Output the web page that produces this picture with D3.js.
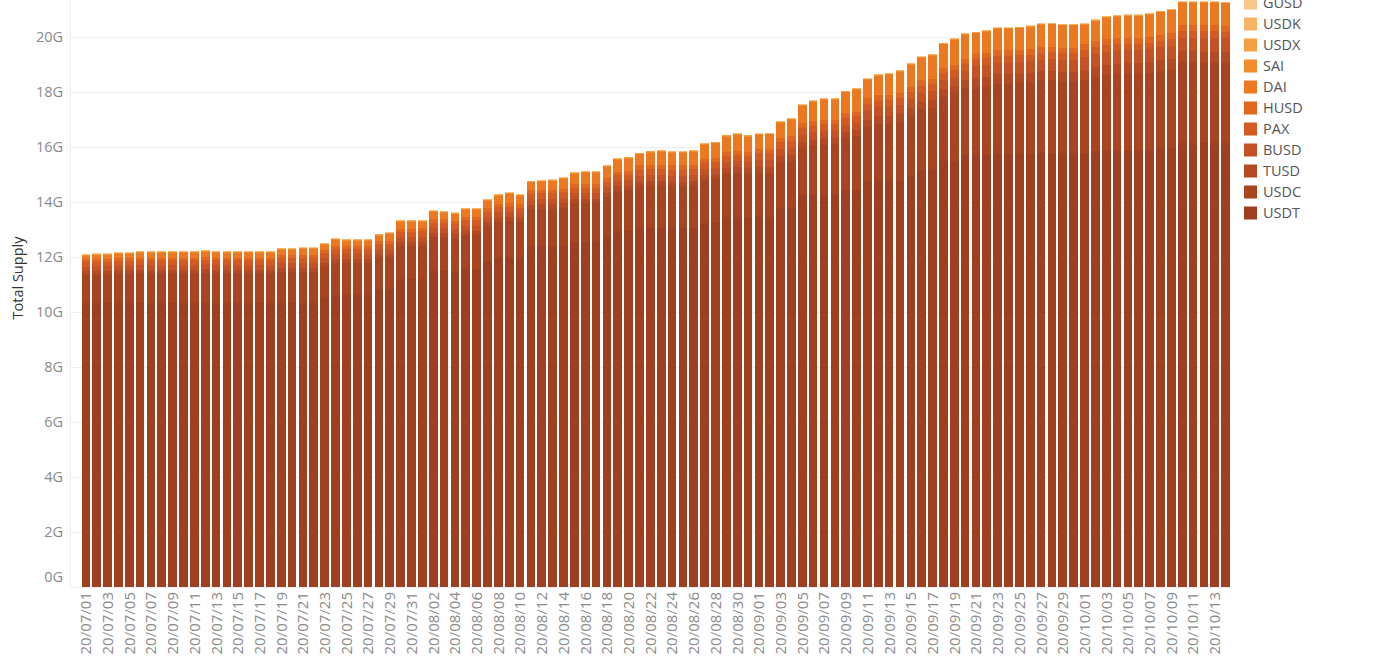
<!DOCTYPE html>
<html>
<head>
<meta charset="utf-8">
<script src="https://cdn.jsdelivr.net/npm/d3@7"></script>
<style>
  html, body { margin: 0; padding: 0; background: #fff; }
  svg { display: block; font-family: "Open Sans", "Noto Sans", sans-serif; }
</style>
</head>
<body>
<svg id="chart" width="1381" height="657"></svg>
<script>
// ---- DATA (values in billions) ----
const startDate = "2020-07-01";
const dayCount = 106; // 2020-07-01 .. 2020-10-14

const seriesNames = ["USDT","USDC","TUSD","BUSD","PAX","HUSD","DAI","SAI","USDX","USDK","GUSD"];

const USDT = [
 10.33,10.33,10.33,10.33,10.33,10.33,10.33,10.33,10.33,10.33,10.33,10.33,10.33,10.33,10.33,10.33,10.33,10.33,10.33,10.33,10.33,10.33,10.50,10.63,10.63,10.63,10.63,10.80,10.80,11.20,11.20,
 11.20,11.50,11.50,11.45,11.55,11.55,11.85,11.98,11.98,11.95,12.40,12.40,12.40,12.40,12.55,12.55,12.55,12.75,12.95,12.95,13.05,13.05,13.05,13.05,13.05,13.05,13.25,13.25,13.45,13.45,13.45,
 13.45,13.45,13.80,13.80,14.25,14.25,14.25,14.25,14.45,14.45,14.75,14.75,14.75,14.75,14.95,15.15,15.15,15.50,15.50,15.70,15.70,15.70,15.75,15.75,15.75,15.75,15.80,15.80,15.80,15.80,
 15.80,15.85,15.90,15.90,15.90,15.90,15.90,15.95,15.95,16.15,16.15,16.15,16.15,16.15
];
const USDC = [
 1.02,1.03,1.03,1.05,1.05,1.08,1.08,1.08,1.08,1.08,1.08,1.10,1.08,1.08,1.08,1.08,1.08,1.08,1.12,1.12,1.14,1.14,1.15,1.16,1.16,1.16,1.16,1.17,1.18,1.20,1.20,
 1.20,1.22,1.22,1.22,1.25,1.25,1.27,1.30,1.32,1.32,1.33,1.34,1.35,1.38,1.40,1.40,1.40,1.42,1.45,1.47,1.50,1.52,1.53,1.50,1.50,1.52,1.55,1.57,1.60,1.62,1.58,
 1.60,1.60,1.65,1.70,1.72,1.80,1.85,1.85,1.88,1.95,1.97,2.08,2.10,2.17,2.20,2.22,2.28,2.32,2.45,2.45,2.48,2.52,2.55,2.55,2.57,2.60,2.62,2.63,2.60,2.60,
 2.62,2.68,2.72,2.75,2.76,2.76,2.80,2.82,2.87,2.93,2.93,2.92,2.92,2.90
];
const TUSD = [
 0.13,0.13,0.13,0.13,0.13,0.13,0.13,0.13,0.13,0.13,0.13,0.13,0.13,0.13,0.13,0.13,0.13,0.13,0.14,0.14,0.14,0.14,0.14,0.14,0.14,0.14,0.14,0.14,0.14,0.14,0.14,
 0.15,0.15,0.15,0.15,0.15,0.15,0.15,0.15,0.15,0.15,0.17,0.17,0.17,0.17,0.17,0.17,0.17,0.17,0.17,0.17,0.19,0.19,0.19,0.19,0.19,0.19,0.19,0.19,0.19,0.19,0.19,
 0.22,0.22,0.22,0.22,0.22,0.22,0.22,0.22,0.22,0.22,0.28,0.28,0.28,0.28,0.28,0.28,0.28,0.28,0.28,0.28,0.34,0.34,0.34,0.34,0.34,0.34,0.34,0.34,0.34,0.34,
 0.38,0.38,0.38,0.38,0.38,0.38,0.38,0.38,0.38,0.40,0.40,0.40,0.40,0.40
];
const BUSD = [
 0.17,0.17,0.17,0.17,0.17,0.17,0.17,0.17,0.17,0.17,0.17,0.17,0.17,0.17,0.17,0.17,0.17,0.17,0.18,0.18,0.18,0.18,0.18,0.18,0.18,0.18,0.18,0.18,0.18,0.18,0.18,
 0.19,0.19,0.19,0.19,0.19,0.19,0.19,0.19,0.19,0.19,0.20,0.20,0.20,0.20,0.20,0.20,0.20,0.20,0.20,0.20,0.22,0.22,0.22,0.22,0.22,0.22,0.22,0.22,0.22,0.22,0.22,
 0.26,0.26,0.26,0.26,0.26,0.26,0.26,0.26,0.26,0.26,0.33,0.33,0.33,0.33,0.33,0.33,0.33,0.33,0.33,0.33,0.42,0.42,0.42,0.42,0.42,0.42,0.42,0.42,0.42,0.42,
 0.47,0.47,0.47,0.47,0.47,0.47,0.47,0.47,0.47,0.50,0.50,0.50,0.50,0.50
];
const PAX = [
 0.17,0.17,0.17,0.17,0.17,0.17,0.17,0.17,0.17,0.17,0.17,0.17,0.17,0.17,0.17,0.17,0.17,0.17,0.18,0.18,0.18,0.18,0.18,0.18,0.18,0.18,0.18,0.18,0.18,0.18,0.18,
 0.19,0.19,0.19,0.19,0.19,0.19,0.19,0.19,0.19,0.19,0.20,0.20,0.20,0.20,0.20,0.20,0.20,0.20,0.20,0.20,0.22,0.22,0.22,0.22,0.22,0.22,0.22,0.22,0.22,0.22,0.22,
 0.24,0.24,0.24,0.24,0.24,0.24,0.24,0.24,0.24,0.24,0.25,0.25,0.25,0.25,0.25,0.25,0.25,0.25,0.25,0.25,0.25,0.25,0.25,0.25,0.25,0.25,0.25,0.25,0.25,0.25,
 0.25,0.25,0.25,0.25,0.25,0.25,0.25,0.25,0.25,0.25,0.25,0.25,0.25,0.25
];
const HUSD = [
 0.10,0.10,0.10,0.10,0.10,0.10,0.10,0.10,0.10,0.10,0.10,0.10,0.10,0.10,0.10,0.10,0.10,0.10,0.11,0.11,0.11,0.11,0.11,0.11,0.11,0.11,0.11,0.11,0.11,0.11,0.11,
 0.12,0.12,0.12,0.12,0.12,0.12,0.12,0.12,0.12,0.12,0.13,0.13,0.13,0.13,0.13,0.13,0.13,0.13,0.13,0.13,0.15,0.15,0.15,0.15,0.15,0.15,0.15,0.15,0.15,0.15,0.15,
 0.17,0.17,0.17,0.17,0.17,0.17,0.17,0.17,0.17,0.17,0.19,0.19,0.19,0.19,0.19,0.19,0.19,0.19,0.19,0.19,0.20,0.20,0.20,0.20,0.20,0.20,0.20,0.20,0.20,0.20,
 0.21,0.21,0.21,0.21,0.21,0.21,0.21,0.21,0.21,0.21,0.21,0.21,0.21,0.21
];
const DAI = [
 0.11,0.13,0.13,0.15,0.15,0.17,0.17,0.17,0.17,0.17,0.17,0.18,0.17,0.17,0.17,0.17,0.17,0.17,0.19,0.19,0.20,0.20,0.19,0.21,0.18,0.18,0.18,0.20,0.24,0.27,0.27,
 0.23,0.26,0.24,0.23,0.26,0.26,0.28,0.30,0.33,0.31,0.28,0.29,0.30,0.35,0.38,0.40,0.40,0.41,0.43,0.46,0.40,0.45,0.47,0.45,0.45,0.48,0.50,0.53,0.55,0.60,0.57,
 0.50,0.52,0.55,0.60,0.63,0.70,0.73,0.73,0.77,0.80,0.67,0.71,0.74,0.77,0.79,0.82,0.84,0.87,0.89,0.89,0.75,0.76,0.78,0.78,0.79,0.80,0.81,0.82,0.81,0.81,
 0.71,0.74,0.77,0.78,0.79,0.79,0.80,0.82,0.84,0.80,0.80,0.81,0.81,0.81
];
const SAI = [
 0.03,0.03,0.03,0.03,0.03,0.03,0.03,0.03,0.03,0.03,0.03,0.03,0.03,0.03,0.03,0.03,0.03,0.03,0.03,0.03,0.03,0.03,0.03,0.03,0.03,0.03,0.03,0.03,0.03,0.03,0.03,
 0.03,0.03,0.03,0.03,0.03,0.03,0.03,0.03,0.03,0.03,0.03,0.03,0.03,0.03,0.03,0.03,0.03,0.03,0.03,0.03,0.03,0.03,0.03,0.03,0.03,0.03,0.03,0.03,0.03,0.03,0.03,
 0.02,0.02,0.02,0.02,0.02,0.02,0.02,0.02,0.02,0.02,0.02,0.02,0.02,0.02,0.02,0.02,0.02,0.02,0.02,0.02,0.02,0.02,0.02,0.02,0.02,0.02,0.02,0.02,0.02,0.02,
 0.02,0.02,0.02,0.02,0.02,0.02,0.02,0.02,0.02,0.02,0.02,0.02,0.02,0.02
];
const USDX = [
 0.01,0.01,0.01,0.01,0.01,0.01,0.01,0.01,0.01,0.01,0.01,0.01,0.01,0.01,0.01,0.01,0.01,0.01,0.01,0.01,0.01,0.01,0.01,0.01,0.01,0.01,0.01,0.01,0.01,0.01,0.01,
 0.01,0.01,0.01,0.01,0.01,0.01,0.01,0.01,0.01,0.01,0.01,0.01,0.01,0.01,0.01,0.01,0.01,0.01,0.01,0.01,0.01,0.01,0.01,0.01,0.01,0.01,0.01,0.01,0.01,0.01,0.01,
 0.01,0.01,0.01,0.01,0.01,0.01,0.01,0.01,0.01,0.01,0.01,0.01,0.01,0.01,0.01,0.01,0.01,0.01,0.01,0.01,0.01,0.01,0.01,0.01,0.01,0.01,0.01,0.01,0.01,0.01,
 0.01,0.01,0.01,0.01,0.01,0.01,0.01,0.01,0.01,0.01,0.01,0.01,0.01,0.01
];
const USDK = [
 0.02,0.02,0.02,0.02,0.02,0.02,0.02,0.02,0.02,0.02,0.02,0.02,0.02,0.02,0.02,0.02,0.02,0.02,0.02,0.02,0.02,0.02,0.02,0.02,0.02,0.02,0.02,0.02,0.02,0.02,0.02,
 0.02,0.02,0.02,0.02,0.02,0.02,0.02,0.02,0.02,0.02,0.02,0.02,0.02,0.02,0.02,0.02,0.02,0.02,0.02,0.02,0.02,0.02,0.02,0.02,0.02,0.02,0.02,0.02,0.02,0.02,0.02,
 0.02,0.02,0.02,0.02,0.02,0.02,0.02,0.02,0.02,0.02,0.02,0.02,0.02,0.02,0.02,0.02,0.02,0.02,0.02,0.02,0.02,0.02,0.02,0.02,0.02,0.02,0.02,0.02,0.02,0.02,
 0.02,0.02,0.02,0.02,0.02,0.02,0.02,0.02,0.02,0.02,0.02,0.02,0.02,0.02
];
const GUSD = [
 0.01,0.01,0.01,0.01,0.01,0.01,0.01,0.01,0.01,0.01,0.01,0.01,0.01,0.01,0.01,0.01,0.01,0.01,0.01,0.01,0.01,0.01,0.01,0.01,0.01,0.01,0.01,0.01,0.01,0.01,0.01,
 0.01,0.01,0.01,0.01,0.01,0.01,0.01,0.01,0.01,0.01,0.01,0.01,0.01,0.01,0.01,0.01,0.01,0.01,0.01,0.01,0.01,0.01,0.01,0.01,0.01,0.01,0.01,0.01,0.01,0.01,0.01,
 0.01,0.01,0.01,0.01,0.01,0.01,0.01,0.01,0.01,0.01,0.01,0.01,0.01,0.01,0.01,0.01,0.01,0.01,0.01,0.01,0.01,0.01,0.01,0.01,0.01,0.01,0.01,0.01,0.01,0.01,
 0.01,0.01,0.01,0.01,0.01,0.01,0.01,0.01,0.01,0.01,0.01,0.01,0.01,0.01
];
const yTicks = [0,2,4,6,8,10,12,14,16,18,20];

const seriesColors = {
  USDT:"#9e3f22", USDC:"#a8441f", TUSD:"#b54a22", BUSD:"#c45224", PAX:"#d35a22",
  HUSD:"#e2661e", DAI:"#ec7822", SAI:"#f28c2d", USDX:"#f4a043", USDK:"#f7b463", GUSD:"#f9c68a"
};

// ---- BUILD ----
const seriesData = {USDT,USDC,TUSD,BUSD,PAX,HUSD,DAI,SAI,USDX,USDK,GUSD};
const parse = d3.timeParse("%Y-%m-%d");
const fmt = d3.timeFormat("%y/%m/%d");
const dates = d3.timeDay.range(parse(startDate), d3.timeDay.offset(parse(startDate), dayCount));
const labels = dates.map(fmt);

const rows = labels.map((lab, i) => {
  const r = {date: lab};
  seriesNames.forEach(s => r[s] = seriesData[s][i]);
  return r;
});

const svg = d3.select("#chart");
const plotLeft = 70, plotRight = 1231;

const x = d3.scaleBand().domain(labels).range([81.5, 1230]).paddingInner(0.2).paddingOuter(0);
const y = d3.scaleLinear().domain([0, 20]).range([587, 37]);

// gridlines
svg.append("g").selectAll("line").data(yTicks).join("line")
  .attr("x1", plotLeft).attr("x2", plotRight)
  .attr("y1", d => Math.round(y(d)) + 0.5).attr("y2", d => Math.round(y(d)) + 0.5)
  .attr("stroke", "#efefef").attr("stroke-width", 1);
svg.append("line").attr("x1", plotLeft + 0.5).attr("x2", plotLeft + 0.5)
  .attr("y1", 0).attr("y2", 587).attr("stroke", "#eeeeee");

// stacked bars
const stack = d3.stack().keys(seriesNames);
const layers = stack(rows);
svg.append("g").attr("shape-rendering", "crispEdges").selectAll("g").data(layers).join("g")
  .attr("fill", d => seriesColors[d.key])
  .selectAll("rect").data(d => d).join("rect")
  .attr("x", d => x(d.data.date))
  .attr("width", x.bandwidth())
  .attr("y", d => y(d[1]))
  .attr("height", d => Math.max(0, y(d[0]) - y(d[1])));

// y axis
const yAxis = d3.axisLeft(y).tickValues(yTicks).tickFormat(d => d + "G").tickSize(0).tickPadding(0);
const yg = svg.append("g").attr("transform", "translate(63,0)").call(yAxis);
yg.select(".domain").remove();
yg.selectAll("text").attr("fill", "#8a8a8a").style("font-size", "14.5px")
  .style("font-family", "'Open Sans', sans-serif")
  .attr("dy", d => d === 0 ? "-0.4em" : "0.34em");

// y title
svg.append("text").attr("transform", "translate(23,278) rotate(-90)")
  .attr("text-anchor", "middle").attr("fill", "#333").style("font-size", "14.5px")
  .text("Total Supply");

// x axis
const xAxis = d3.axisBottom(x).tickValues(labels.filter((d, i) => i % 2 === 0)).tickSize(0).tickPadding(0);
const xg = svg.append("g").attr("transform", "translate(0,592)").call(xAxis);
xg.select(".domain").remove();
xg.selectAll("text")
  .attr("transform", "rotate(-90)")
  .attr("text-anchor", "end")
  .attr("x", 0).attr("y", 0).attr("dx", 0).attr("dy", "0.36em")
  .attr("fill", "#8a8a8a").style("font-size", "15px")
  .style("font-family", "'Open Sans', sans-serif");

// legend
const legendOrder = seriesNames.slice().reverse();
const lg = svg.append("g").attr("transform", "translate(1244,3)");
const item = lg.selectAll("g").data(legendOrder).join("g")
  .attr("transform", (d, i) => `translate(0,${i * 21})`);
item.append("rect").attr("x", 0).attr("y", -6.5).attr("width", 13).attr("height", 13)
  .attr("fill", d => seriesColors[d]);
item.append("text").attr("x", 19).attr("y", 0).attr("dy", "0.36em")
  .attr("fill", "#555").style("font-size", "14.5px").text(d => d);
</script>
</body>
</html>
